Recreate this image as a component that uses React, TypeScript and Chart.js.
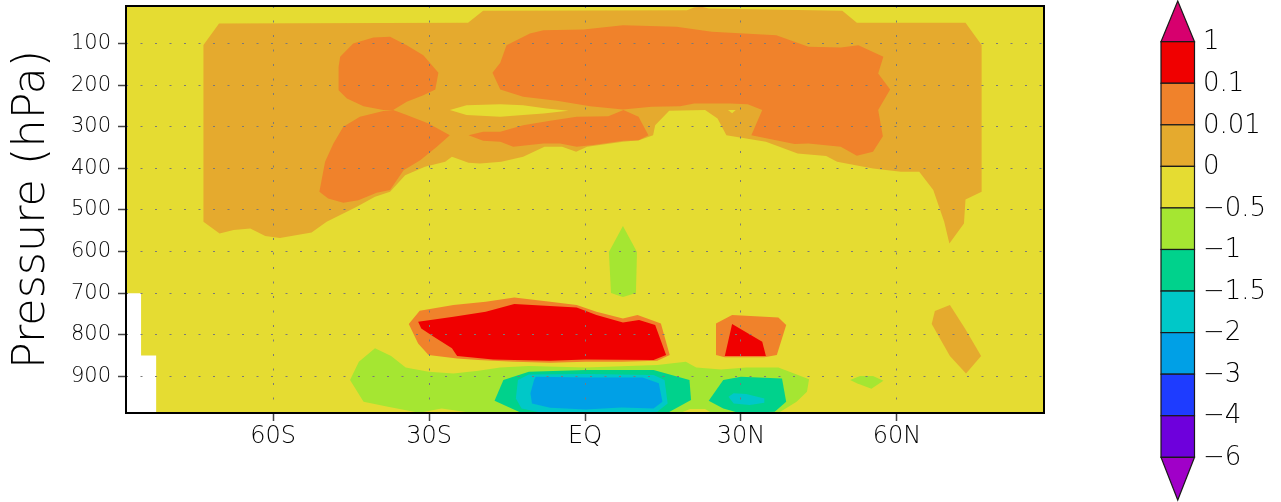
import React, { useEffect, useRef } from 'react';
import { Chart, registerables } from 'chart.js';

Chart.register(...registerables);

type Pt = [number, number];

// ---------- axes ----------
const LAT_MIN = -88.3;
const LAT_MAX = 88.3;
const P_TOP = 10;
const P_BOTTOM = 988;
const LAT_TICKS = [-60, -30, 0, 30, 60];
const LAT_LABELS = ['60S', '30S', 'EQ', '30N', '60N'];
const P_TICKS = [100, 200, 300, 400, 500, 600, 700, 800, 900];
const Y_TITLE = 'Pressure (hPa)';

// ---------- colour bar ----------
const LEVEL_LABELS = ['1', '0.1', '0.01', '0', '\u22120.5', '\u22121', '\u22121.5', '\u22122', '\u22123', '\u22124', '\u22126'];
const BAND_COLORS = ['#f00000', '#f0822b', '#e5aa2e', '#e5dc32', '#a5e632', '#00d28c', '#00c8c8', '#00a0e6', '#1e3cff', '#6e00dc'];
const OVER_COLOR = '#d7006e';
const UNDER_COLOR = '#a000c8';

const RED = BAND_COLORS[0];
const ORANGE = BAND_COLORS[1];
const LORANGE = BAND_COLORS[2];
const YELLOW = BAND_COLORS[3];
const LGREEN = BAND_COLORS[4];
const TEAL = BAND_COLORS[5];
const CYAN = BAND_COLORS[6];
const BLUE = BAND_COLORS[7];

const THIN_FONT = "'DejaVu Sans', 'Liberation Sans', sans-serif";

// ---------- contour regions: [latitude, pressure hPa] ----------
const baseField: Pt[] = [[-88.3, 10], [88.3, 10], [88.3, 988], [-82.5, 988], [-82.5, 850], [-85.4, 850], [-85.4, 700], [-88.3, 700]];

const loMain: Pt[] = [[-73.4, 104], [-70.4, 52], [-22.5, 50.5], [-19.6, 21.7], [19.6, 20], [21.0, 13.5], [22.4, 12], [23.8, 16], [49.5, 21.7], [52.3, 50.5], [73.2, 50.5], [76.3, 104], [76.3, 456.5], [73.2, 474.8], [72.9, 532.4], [70.1, 580.5], [69.1, 528.6], [67.0, 452.4], [64.3, 408.5], [60.8, 408.5], [55.4, 400.3], [48.5, 384.4], [46.4, 370.7], [40.9, 364.3], [34.8, 336.4], [27.2, 320.3], [25.5, 280.2], [23.1, 260.2], [16.2, 261.9], [13.5, 296.3], [13.1, 320.3], [10.4, 332.3], [7.3, 336.4], [0.4, 348.4], [-1.7, 360.4], [-4.4, 348.4], [-7.8, 348.4], [-11.9, 372.4], [-16.1, 384.4], [-20.2, 388.3], [-22.4, 386.8], [-25.6, 372.4], [-26.9, 384.4], [-30.8, 396.5], [-34.6, 416.4], [-37.5, 456.5], [-40.4, 468.5], [-43.9, 492.6], [-49.7, 528.6], [-52.6, 554.1], [-58.7, 567.7], [-61.5, 562.9], [-64.4, 544.4], [-67.6, 548.5], [-70.3, 556.5], [-73.4, 528.6]];

const loPatch: Pt[] = [[67.3, 743.1], [70.2, 728.7], [73.1, 784.7], [76.2, 851.2], [73.3, 892.8], [70.2, 851.2], [66.7, 774.4]];

const yEllipse: Pt[] = [[-26.0, 260.2], [-22.8, 248.2], [-16.3, 245.8], [-11.9, 248.2], [-7.4, 256.2], [-3.2, 261.9], [-8.0, 268.2], [-11.9, 272.2], [-16.3, 276.3], [-22.8, 272.2]];

const yNotch: Pt[] = [[27.5, 260], [29.0, 260], [28.3, 268]];

const oLeftUpper: Pt[] = [[-47.1, 132.2], [-44.6, 100], [-40.7, 85.6], [-37.5, 84.1], [-34.3, 104.1], [-31.1, 128.1], [-28.2, 170.6], [-28.8, 210.5], [-31.1, 224.2], [-34.3, 240.3], [-36.9, 260.2], [-38.8, 260.2], [-42.6, 250.6], [-45.8, 232.1], [-47.4, 212.2], [-47.4, 156.2]];

const oLeftLower: Pt[] = [[-36.9, 260.2], [-34.3, 272.2], [-30.1, 292.2], [-26.0, 320.3], [-28.5, 348.4], [-31.7, 380.4], [-34.9, 404.4], [-37.5, 452.4], [-40.1, 458.9], [-43.6, 476.5], [-46.5, 482.9], [-49.4, 472.4], [-51.1, 456.5], [-50.0, 384.4], [-48.4, 340.2], [-46.5, 300.4], [-43.3, 276.3], [-38.8, 262.6]];

const oUpperBand: Pt[] = [[-17.8, 170.6], [-16.3, 146.6], [-15.1, 104.1], [-10.6, 76], [-8.0, 68], [-0.3, 66.4], [7.3, 56], [17.6, 60.1], [24.4, 72.1], [36.8, 80.1], [43.0, 108.2], [49.2, 109.6], [52.6, 104.1], [57.4, 132.2], [56.4, 172.1], [58.7, 210.5], [56.4, 260.2], [57.3, 322.7], [55.4, 360.4], [52.3, 370], [49.2, 348.4], [43.0, 340.2], [40.3, 341.9], [32.0, 320.3], [34.1, 260.2], [31.3, 245.8], [27.9, 244.1], [21.0, 244.1], [18.3, 250.6], [12.8, 252.3], [7.3, 258.6], [1.0, 250.6], [-5.4, 237.9], [-11.9, 228.3], [-16.3, 210.5]];

const oTongue: Pt[] = [[-22.4, 320.3], [-19.6, 312.4], [-16.3, 312.4], [-11.9, 296.3], [-6.7, 285.9], [-1.6, 276.3], [4.5, 274.7], [7.4, 260.2], [10.3, 276.3], [12.2, 320.3], [10.3, 332.3], [7.4, 334], [1.6, 344.3], [-1.6, 348.4], [-4.8, 340.2], [-8.0, 340.2], [-13.8, 348.4], [-16.3, 336.4], [-19.6, 334]];

const oLowCenter: Pt[] = [[-33.9, 774.4], [-31.8, 742.4], [-25.3, 728.7], [-19.1, 720.8], [-13.6, 710.2], [-6.7, 720.8], [-1.6, 728.7], [2.2, 744.8], [7.3, 760.7], [10.1, 752.7], [14.6, 772.7], [16.3, 848.8], [13.9, 862.5], [7.0, 864.9], [0.1, 864.9], [-6.7, 867.3], [-13.6, 864.9], [-20.5, 860.8], [-24.6, 856.8], [-30.1, 848.8], [-32.1, 820.7]];

const rLowCenter: Pt[] = [[-32.1, 768.8], [-25.3, 756.8], [-19.1, 744.8], [-13.6, 726.3], [-1.6, 734.2], [2.2, 752.7], [7.3, 770.3], [10.4, 764.7], [13.5, 776.8], [15.6, 848.8], [13.2, 860.8], [0.1, 859.2], [-6.7, 862.5], [-13.6, 860.8], [-17.7, 859.2], [-24.6, 851.2], [-25.6, 832.7], [-29.1, 804.9], [-31.5, 784.7]];

const oLowRight: Pt[] = [[25.2, 772.7], [28.3, 752.7], [37.2, 758.3], [38.7, 776.8], [36.9, 848.8], [34.5, 854.3], [26.9, 854.3], [25.2, 848.8]];

const rLowRight: Pt[] = [[28.3, 774.4], [34.1, 816.9], [34.8, 851.2], [26.9, 851.2]];

const gLow: Pt[] = [[-45.2, 908.9], [-43.5, 864.9], [-40.4, 832.7], [-37.3, 851.2], [-34.5, 878.4], [-30.1, 888.9], [-25.3, 892.8], [-20.5, 886.5], [-16.3, 878.4], [-10.8, 875.3], [0.1, 878.4], [13.9, 872.8], [19.4, 864.9], [21.4, 878.4], [26.2, 883.2], [31.0, 878.4], [37.2, 878.4], [43.1, 907.2], [42.7, 937], [40.7, 961], [37.2, 988], [-21.6, 988], [-27.6, 976.9], [-31.9, 987.4], [-37.9, 973], [-42.6, 961]];

const yLowBit: Pt[] = [[18.3, 988], [20.2, 978.4], [23.1, 978.4], [24.4, 988]];

const tLowCenter: Pt[] = [[-17.4, 958.6], [-15.7, 908.9], [-10.8, 889], [0.1, 884.9], [13.2, 884.9], [20.1, 908.9], [20.4, 956.9], [16.2, 985.8], [13.8, 988], [-12.2, 988]];

const cLowCenter: Pt[] = [[-13.3, 952.9], [-12.9, 908.9], [-10.8, 895.2], [0.1, 894.5], [13.2, 896.9], [15.3, 908.9], [15.9, 964.9], [13.9, 985], [7.0, 988], [-8.1, 988], [-12.2, 976.9]];

const bLowCenter: Pt[] = [[-10.5, 940.8], [-9.8, 908.9], [-9.5, 901], [0.1, 902.4], [11.1, 902.4], [14.2, 916.8], [14.9, 961], [13.2, 976.9], [7.0, 974.5], [0.1, 979.3], [-6.7, 975.4], [-10.2, 964.9]];

const tLowRight: Pt[] = [[23.8, 958.6], [26.6, 908.9], [30.0, 901], [37.9, 904.8], [38.7, 961], [36.5, 985], [29.7, 988], [26.6, 976.9]];

const cLowRight: Pt[] = [[27.6, 949], [28.6, 940.8], [31.0, 942.5], [34.5, 952.9], [34.5, 963.4], [31.7, 968.9], [28.6, 964.9]];

const gMid: Pt[] = [[7.3, 538.9], [10.0, 601.4], [9.8, 699.9], [7.3, 709.5], [5.0, 699.9], [4.6, 601.4]];

const gRight: Pt[] = [[51.0, 908.9], [52.3, 916.8], [55.1, 929.8], [57.4, 910.6], [55.4, 899.3], [52.9, 899.3]];

// drawing order: first = bottom
const LAYERS: { pts: Pt[]; color: string }[] = [
  { pts: baseField, color: YELLOW },
  { pts: loMain, color: LORANGE },
  { pts: loPatch, color: LORANGE },
  { pts: yEllipse, color: YELLOW },
  { pts: yNotch, color: YELLOW },
  { pts: oLeftUpper, color: ORANGE },
  { pts: oLeftLower, color: ORANGE },
  { pts: oUpperBand, color: ORANGE },
  { pts: oTongue, color: ORANGE },
  { pts: oLowCenter, color: ORANGE },
  { pts: rLowCenter, color: RED },
  { pts: oLowRight, color: ORANGE },
  { pts: rLowRight, color: RED },
  { pts: gLow, color: LGREEN },
  { pts: yLowBit, color: YELLOW },
  { pts: tLowCenter, color: TEAL },
  { pts: cLowCenter, color: CYAN },
  { pts: bLowCenter, color: BLUE },
  { pts: tLowRight, color: TEAL },
  { pts: cLowRight, color: CYAN },
  { pts: gMid, color: LGREEN },
  { pts: gRight, color: LGREEN },
];

const framePlugin = {
  id: 'frame',
  afterDraw(chart: any) {
    const { ctx, chartArea: a } = chart;
    ctx.save();
    ctx.strokeStyle = '#000';
    ctx.lineWidth = 2;
    ctx.strokeRect(a.left, a.top, a.right - a.left, a.bottom - a.top);
    ctx.restore();
  },
};

const colorbarPlugin = {
  id: 'colorbar',
  afterDraw(chart: any) {
    const ctx = chart.ctx as CanvasRenderingContext2D;
    const x0 = 1161;
    const x1 = 1194.5;
    const xm = (x0 + x1) / 2;
    const top = 41.7;
    const boxH = 41.56;
    const n = BAND_COLORS.length;
    const bottom = top + n * boxH;
    ctx.save();
    ctx.lineWidth = 1.2;
    ctx.strokeStyle = '#1a1a1a';
    ctx.beginPath();
    ctx.moveTo(x0, top);
    ctx.lineTo(xm, 1);
    ctx.lineTo(x1, top);
    ctx.closePath();
    ctx.fillStyle = OVER_COLOR;
    ctx.fill();
    ctx.stroke();
    BAND_COLORS.forEach((c, i) => {
      const y = top + i * boxH;
      ctx.fillStyle = c;
      ctx.fillRect(x0, y, x1 - x0, boxH);
      ctx.strokeRect(x0, y, x1 - x0, boxH);
    });
    ctx.beginPath();
    ctx.moveTo(x0, bottom);
    ctx.lineTo(xm, 500);
    ctx.lineTo(x1, bottom);
    ctx.closePath();
    ctx.fillStyle = UNDER_COLOR;
    ctx.fill();
    ctx.stroke();
    ctx.fillStyle = '#000';
    ctx.font = `200 26px ${THIN_FONT}`;
    ctx.textAlign = 'left';
    ctx.textBaseline = 'middle';
    LEVEL_LABELS.forEach((t, i) => {
      ctx.fillText(t, 1203, top + i * boxH + 1);
    });
    ctx.restore();
  },
};

export default function App() {
  const ref = useRef<HTMLCanvasElement>(null);
  useEffect(() => {
    const canvas = ref.current;
    if (!canvas) return;
    const gridCommon = {
      z: 1,
      color: '#7a7a7a',
      lineWidth: 1,
      tickLength: 8,
      tickColor: '#444',
      tickWidth: 1.5,
      tickBorderDash: [1, 0],
      drawOnChartArea: true,
    };
    const chart = new Chart(canvas, {
      type: 'line',
      data: {
        datasets: LAYERS.map((l, i) => ({
          data: l.pts.map(([x, y]) => ({ x, y })),
          backgroundColor: l.color,
          borderColor: l.color,
          borderWidth: 0,
          pointRadius: 0,
          pointHoverRadius: 0,
          tension: 0,
          fill: 'shape',
          order: LAYERS.length - i,
        })),
      },
      options: {
        animation: false,
        responsive: false,
        devicePixelRatio: 1,
        events: [],
        layout: { padding: { left: 0, right: 237, top: 6, bottom: 0 } },
        plugins: { legend: { display: false }, tooltip: { enabled: false } },
        scales: {
          x: {
            type: 'linear',
            min: LAT_MIN,
            max: LAT_MAX,
            afterFit: (s: any) => {
              s.height = 89;
              s.paddingLeft = 0;
              s.paddingRight = 0;
            },
            afterBuildTicks: (s: any) => { s.ticks = LAT_TICKS.map((v) => ({ value: v })); },
            grid: gridCommon,
            border: { display: false, dash: [2, 12.5] },
            ticks: {
              autoSkip: false,
              maxRotation: 0,
              padding: 1,
              color: '#000',
              font: { family: THIN_FONT, size: 24, weight: '200' },
              callback: (v: any) => LAT_LABELS[LAT_TICKS.indexOf(Number(v))] ?? '',
            },
          },
          y: {
            type: 'linear',
            reverse: true,
            min: P_TOP,
            max: P_BOTTOM,
            afterFit: (s: any) => {
              s.width = 126;
              s.paddingTop = 0;
              s.paddingBottom = 0;
            },
            afterBuildTicks: (s: any) => { s.ticks = P_TICKS.map((v) => ({ value: v })); },
            grid: gridCommon,
            border: { display: false, dash: [2, 12.5] },
            ticks: {
              autoSkip: false,
              padding: 7,
              color: '#000',
              font: { family: THIN_FONT, size: 21, weight: '200' },
              callback: (v: any) => String(v),
            },
            title: {
              display: true,
              text: Y_TITLE,
              color: '#000',
              font: { family: THIN_FONT, size: 44.5, weight: '200' },
              padding: { top: 6, bottom: 0 },
            },
          },
        },
      } as any,
      plugins: [framePlugin, colorbarPlugin],
    });
    return () => chart.destroy();
  }, []);
  return (
    <div style={{ position: 'fixed', left: 0, top: 0, width: 1281, height: 502, background: '#fff' }}>
      <canvas ref={ref} width={1281} height={502} style={{ display: 'block', width: 1281, height: 502 }} />
    </div>
  );
}
